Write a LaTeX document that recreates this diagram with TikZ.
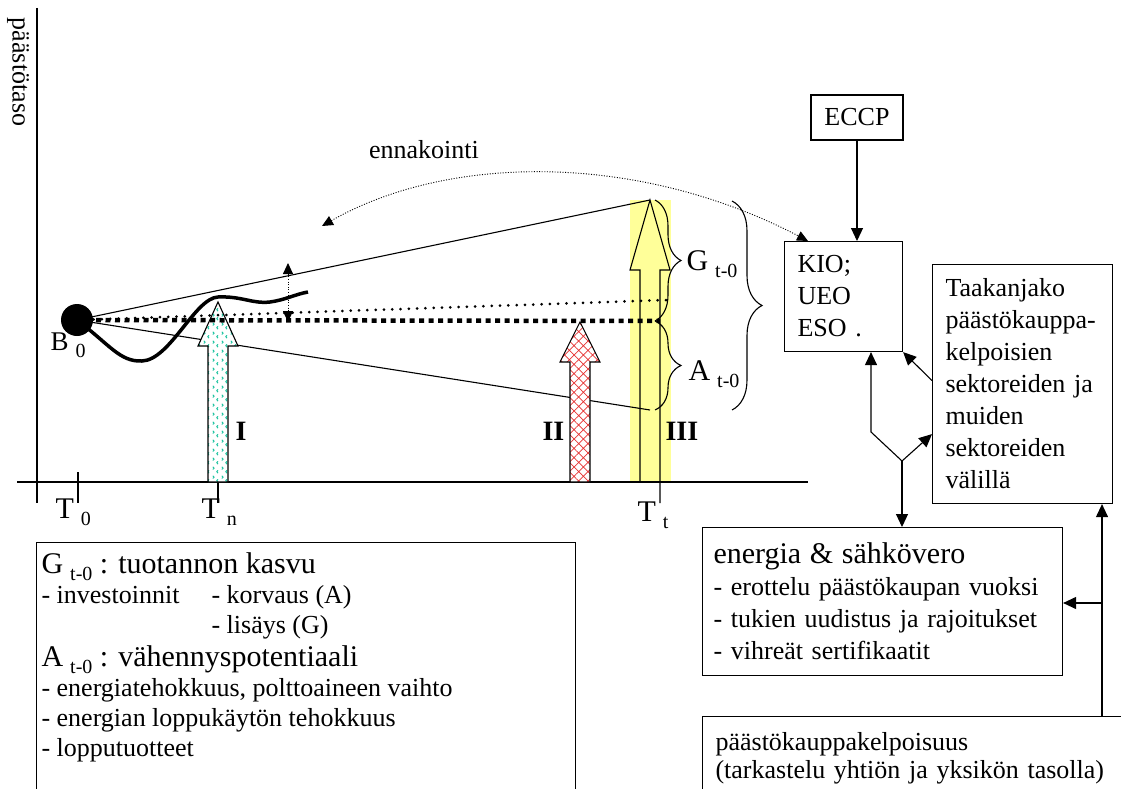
\documentclass[tikz,border=0pt]{standalone}
\usepackage{fontspec}
\setmainfont{Liberation Serif}
\usetikzlibrary{arrows.meta,decorations.pathreplacing,patterns.meta}

\definecolor{markyellow}{RGB}{255,255,153}
\definecolor{hatchred}{RGB}{230,50,50}
\definecolor{wiggleteal}{RGB}{30,195,160}

\newcommand{\bigfnt}{\fontsize{30}{34}\selectfont}
\newcommand{\smallfnt}{\fontsize{26}{32}\selectfont}
\newcommand{\subfnt}{\fontsize{20}{20}\selectfont}
\newcommand{\lsub}[1]{\hspace{7pt}\raisebox{-7pt}{\subfnt #1}}

\tikzdeclarepattern{
  name=wiggles,
  type=uncolored,
  bounding box={(0pt,0pt) and (9pt,9pt)},
  tile size={(9pt,9pt)},
  code={
    \draw[line width=1.1pt] (2.2pt,1pt) -- (.8pt,2.5pt) -- (2.2pt,4pt);
    \draw[line width=1.1pt] (6.3pt,5pt) -- (7.7pt,6.5pt) -- (6.3pt,8pt);
  }
}

\begin{document}
\begin{tikzpicture}[x=1pt, y=-1pt, line width=1.1pt,
    every node/.style={font=\smallfnt, inner sep=0pt},
    box/.style={draw, anchor=north west, align=left, inner xsep=13pt},
    arr/.style={-{Triangle[width=12pt,length=13pt]}},
    dotline/.style={line width=.9pt, dash pattern=on 1pt off 1.6pt},
    biglabel/.style={anchor=base west, font=\bigfnt},
    romanlabel/.style={anchor=base west, font=\fontsize{28}{28}\selectfont\bfseries}]
  \useasboundingbox (0,0) rectangle (1121,789);

  % highlight behind arrow III
  \fill[markyellow] (630,200) rectangle (671,482);

  % axes and time marks
  \draw (37,8) -- (37,503);
  \draw (17,482) -- (808,482);
  \draw (78,472) -- (78,503);
  \draw (218,482) -- (218,503);
  \node[rotate=-90] (ylabel) at (18,72) {päästötaso};
  \node[biglabel] (tzero) at (55,518) {T\lsub{0}};
  \node[biglabel] (tn) at (201,518) {T\lsub{n}};
  \node[biglabel] (tt) at (637,521) {T\lsub{t}};

  % lines from the base level
  \coordinate (b0) at (77,320);
  \coordinate (tipthree) at (650,200);
  \coordinate (lowend) at (650,410);
  \draw (b0) -- (lowend);

  % arrows I and II
  \draw[preaction={fill=white}, pattern=wiggles, pattern color=wiggleteal]
    (208,482) -- (208,346) -- (198,346) -- (218,302) -- (238,346) -- (228,346) -- (228,482) -- cycle;
  \draw[preaction={fill=white}, pattern={Hatch[angle=45,distance=6.6pt,line width=.7pt]}, pattern color=hatchred]
    (570,482) -- (570,362) -- (560,362) -- (580,322) -- (600,362) -- (590,362) -- (590,482) -- cycle;

  % base level, trend and path
  \draw[line width=4.5pt, dash pattern=on 5pt off 4.5pt] (b0) -- (660,321);
  \draw[line width=3pt, line cap=round, dash pattern=on 0pt off 8.3pt] (b0) -- (667,300);
  \draw[line width=3.5pt] (b0) .. controls (110,345) and (120,362) .. (142,361)
    .. controls (170,360) and (195,298) .. (218,297)
    .. controls (242,296) and (252,304) .. (270,302)
    .. controls (285,300) and (296,294) .. (308,292);
  \fill (b0) circle[radius=16pt];
  \node[biglabel, font=\fontsize{27}{27}\selectfont] (bzero) at (50,350) {B\lsub{0}};
  \draw (b0) -- (tipthree);

  % arrow III
  \draw (640,482) -- (640,270) -- (630,270) -- (tipthree) -- (670,270) -- (660,270) -- (660,503);

  % up/down swing
  \coordinate (swingtop) at (288,263);
  \coordinate (swingbot) at (288,322);
  \draw[dotline, {Triangle[width=10pt,length=11pt]}-{Triangle[width=10pt,length=11pt]}] (swingtop) -- (swingbot);

  \node[romanlabel] (one) at (235,440) {I};
  \node[romanlabel] (two) at (542,440) {II};
  \node[romanlabel] (three) at (665,440) {III};

  % braces
  \draw[decorate, decoration={brace, amplitude=26pt}] (655,200) -- (655,321);
  \draw[decorate, decoration={brace, amplitude=26pt}] (655,321) -- (655,410);
  \draw[decorate, decoration={brace, amplitude=30pt}] (732,201) -- (732,410);
  \node[biglabel] (glab) at (686,270) {G\lsub{t-0}};
  \node[biglabel] (alab) at (688,380) {A\lsub{t-0}};

  % boxes
  \node[draw, minimum width=92pt, minimum height=45pt] (eccp) at (857,117.5) {ECCP};
  \node[box, text width=92pt, minimum height=110pt] (kio) at (784,241) {KIO;\\UEO\\ESO .};
  \node[box, text width=154pt, minimum height=239pt] (taakka) at (932,264)
    {Taakanjako\\päästökauppa-\\kelpoisien\\sektoreiden ja\\muiden\\sektoreiden\\välillä};
  \node[box, text width=338pt, inner xsep=11pt, inner ysep=15.5pt] (energia) at (702,527)
    {{\bigfnt energia \& sähkövero}\\- erottelu päästökaupan vuoksi\\- tukien uudistus ja rajoitukset\\- vihreät sertifikaatit};
  \node[box, text width=440pt, inner ysep=16pt, font=\fontsize{26}{28}\selectfont] (kelpo) at (702,716)
    {päästökauppakelpoisuus\\(tarkastelu yhtiön ja yksikön tasolla)};

  % legend
  \node[draw, anchor=north west, minimum width=539pt, minimum height=270pt] (legend) at (36,542) {};
  \node[anchor=north west, align=left, font=\fontsize{26}{30}\selectfont] (legendtext) at (41,552.5)
    {{\bigfnt G\lsub{t-0} : tuotannon kasvu}\\
     \makebox[170pt][l]{- investoinnit}- korvaus (A)\\
     \hspace*{170pt}- lisäys (G)\\[3pt]
     {\bigfnt A\lsub{t-0} : vähennyspotentiaali}\\
     - energiatehokkuus, polttoaineen vaihto\\
     - energian loppukäytön tehokkuus\\
     - lopputuotteet};

  % connectors
  \draw[arr] (eccp.south) -- (eccp.south |- kio.north);
  \draw[arr] ([yshift=3.5pt]taakka.west) -- (kio.south east);
  \coordinate (fork) at (902,461);
  \coordinate (bend) at (871,432);
  \draw[arr] (fork) -- (bend) -- (bend |- kio.south);
  \draw[arr] (fork) -- ([yshift=70pt]taakka.south west);
  \draw[arr] (fork) -- (fork |- energia.north);
  \coordinate (riser) at (1102,603);
  \draw[arr] (riser |- kelpo.north) -- (riser |- taakka.south);
  \draw[arr] (riser) -- (riser -| energia.east);

  % forecasting
  \node[anchor=base] (ennak) at (424,158) {ennakointi};
  \coordinate (ennakend) at (322,226);
  \draw[dotline, {Triangle[width=10pt,length=11pt]}-{Triangle[width=10pt,length=11pt]}]
    (ennakend) .. controls (450,153) and (640,153) .. ([xshift=24pt]kio.north west);
\end{tikzpicture}
\end{document}
